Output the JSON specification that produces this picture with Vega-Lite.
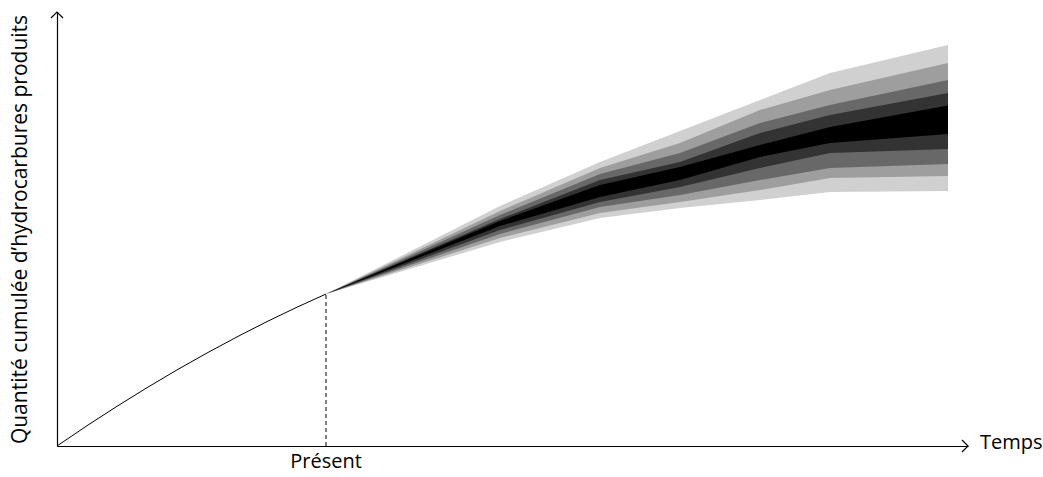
{
  "$schema": "https://vega.github.io/schema/vega-lite/v6.json",
  "width": 911,
  "height": 434,
  "autosize": "none",
  "padding": {"left": 57, "top": 12, "right": 75, "bottom": 31},
  "background": "white",
  "config": {"view": {"stroke": null}},
  "datasets": {
    "fan": [
      {"b": 1, "x": 269, "y": 152, "y2": 152}, {"b": 1, "x": 443, "y": 204, "y2": 240}, {"b": 1, "x": 543, "y": 228, "y2": 284}, {"b": 1, "x": 623, "y": 238, "y2": 315}, {"b": 1, "x": 703, "y": 246, "y2": 346}, {"b": 1, "x": 773, "y": 254, "y2": 373}, {"b": 1, "x": 891, "y": 255, "y2": 401},
      {"b": 2, "x": 269, "y": 152, "y2": 152}, {"b": 2, "x": 443, "y": 208, "y2": 235}, {"b": 2, "x": 543, "y": 233, "y2": 278}, {"b": 2, "x": 623, "y": 244, "y2": 303}, {"b": 2, "x": 703, "y": 256, "y2": 336}, {"b": 2, "x": 773, "y": 268, "y2": 356}, {"b": 2, "x": 891, "y": 270, "y2": 383},
      {"b": 3, "x": 269, "y": 152, "y2": 152}, {"b": 3, "x": 443, "y": 212, "y2": 231}, {"b": 3, "x": 543, "y": 239, "y2": 272}, {"b": 3, "x": 623, "y": 251, "y2": 293}, {"b": 3, "x": 703, "y": 266, "y2": 323}, {"b": 3, "x": 773, "y": 278, "y2": 341}, {"b": 3, "x": 891, "y": 282, "y2": 366},
      {"b": 4, "x": 269, "y": 152, "y2": 152}, {"b": 4, "x": 443, "y": 216, "y2": 227}, {"b": 4, "x": 543, "y": 244, "y2": 266}, {"b": 4, "x": 623, "y": 259, "y2": 284}, {"b": 4, "x": 703, "y": 278, "y2": 313}, {"b": 4, "x": 773, "y": 293, "y2": 331}, {"b": 4, "x": 891, "y": 297, "y2": 353},
      {"b": 5, "x": 269, "y": 152, "y2": 152}, {"b": 5, "x": 443, "y": 220, "y2": 225}, {"b": 5, "x": 543, "y": 249, "y2": 261}, {"b": 5, "x": 623, "y": 266, "y2": 279}, {"b": 5, "x": 703, "y": 289, "y2": 301}, {"b": 5, "x": 773, "y": 303, "y2": 319}, {"b": 5, "x": 891, "y": 312, "y2": 340.5}
    ],
    "hist": [
      {"x": 0, "y": 0}, {"x": 30, "y": 20.3}, {"x": 60, "y": 39.7}, {"x": 90, "y": 58.3}, {"x": 120, "y": 76.1}, {"x": 150, "y": 93}, {"x": 180, "y": 109.1}, {"x": 210, "y": 124.4}, {"x": 240, "y": 138.8}, {"x": 269, "y": 152}
    ],
    "present": [{"x": 269, "y": 0, "y2": 152}],
    "arrowX": [{"x": 911, "y": 0}],
    "arrowY": [{"x": 0, "y": 434}],
    "labTemps": [{"x": 923, "y": 3, "label": "Temps"}],
    "labPresent": [{"x": 269, "y": -22, "label": "Présent"}]
  },
  "encoding": {
    "x": {
      "field": "x", "type": "quantitative",
      "scale": {"domain": [0, 911], "nice": false, "zero": false},
      "axis": {"domain": true, "domainColor": "black", "domainWidth": 1.2, "ticks": false, "labels": false, "grid": false, "title": null}
    },
    "y": {
      "field": "y", "type": "quantitative",
      "scale": {"domain": [0, 434], "nice": false, "zero": false},
      "axis": {"domain": true, "domainColor": "black", "domainWidth": 1.2, "ticks": false, "labels": false, "grid": false,
        "title": "Quantité cumulée d’hydrocarbures produits", "titleFont": "Open Sans", "titleFontSize": 21, "titleFontWeight": "normal", "titleColor": "black", "titlePadding": 27}
    }
  },
  "layer": [
    {"data": {"name": "fan"}, "transform": [{"filter": "datum.b == 1"}], "mark": {"type": "area", "color": "#d0d0d0"}, "encoding": {"y2": {"field": "y2"}}},
    {"data": {"name": "fan"}, "transform": [{"filter": "datum.b == 2"}], "mark": {"type": "area", "color": "#9e9e9e"}, "encoding": {"y2": {"field": "y2"}}},
    {"data": {"name": "fan"}, "transform": [{"filter": "datum.b == 3"}], "mark": {"type": "area", "color": "#686868"}, "encoding": {"y2": {"field": "y2"}}},
    {"data": {"name": "fan"}, "transform": [{"filter": "datum.b == 4"}], "mark": {"type": "area", "color": "#333333"}, "encoding": {"y2": {"field": "y2"}}},
    {"data": {"name": "fan"}, "transform": [{"filter": "datum.b == 5"}], "mark": {"type": "area", "color": "#000000"}, "encoding": {"y2": {"field": "y2"}}},
    {"data": {"name": "hist"}, "mark": {"type": "line", "color": "black", "strokeWidth": 1}, "encoding": {}},
    {"data": {"name": "present"}, "mark": {"type": "rule", "color": "black", "strokeWidth": 1, "strokeDash": [4, 3]}, "encoding": {"y2": {"field": "y2"}}},
    {"data": {"name": "arrowX"}, "mark": {"type": "point", "shape": "M-1,-1L0,0L-1,1", "filled": false, "stroke": "black", "strokeWidth": 1.2, "size": 144, "opacity": 1}, "encoding": {}},
    {"data": {"name": "arrowY"}, "mark": {"type": "point", "shape": "M-1,1L0,0L1,1", "filled": false, "stroke": "black", "strokeWidth": 1.2, "size": 144, "opacity": 1}, "encoding": {}},
    {"data": {"name": "labTemps"}, "mark": {"type": "text", "align": "left", "baseline": "middle", "font": "Open Sans", "fontSize": 20, "color": "black"}, "encoding": {"text": {"field": "label"}}},
    {"data": {"name": "labPresent"}, "mark": {"type": "text", "align": "center", "baseline": "alphabetic", "font": "Open Sans", "fontSize": 20, "color": "black"}, "encoding": {"text": {"field": "label"}}}
  ]
}
